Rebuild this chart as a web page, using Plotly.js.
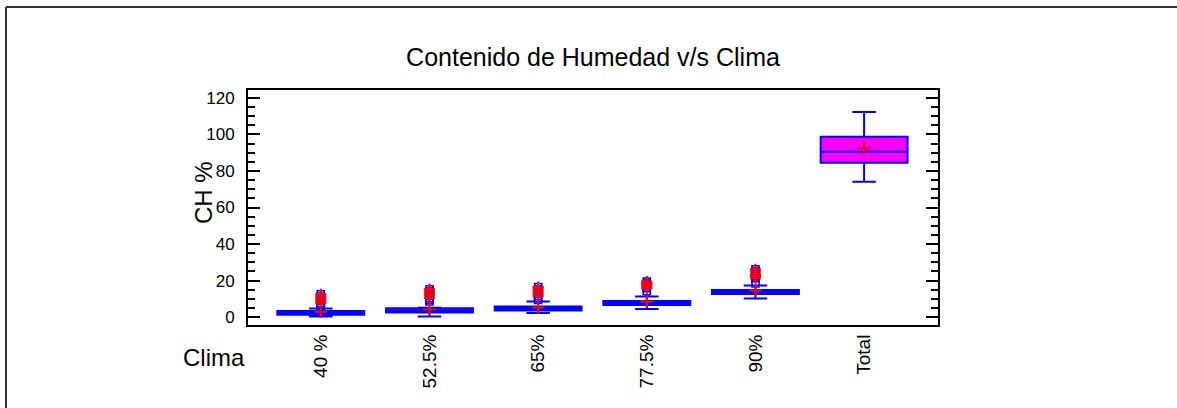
<!DOCTYPE html>
<html>
<head>
<meta charset="utf-8">
<script src="https://cdn.plot.ly/plotly-3.0.1.min.js"></script>
<style>
  html, body { margin: 0; padding: 0; background: #fff; overflow: hidden; }
  #chart { width: 1177px; height: 408px; }
</style>
</head>
<body>
<div id="chart"></div>
<script>
// Climate groups on the horizontal axis
const categories = ['40 %', '52.5%', '65%', '77.5%', '90%', 'Total'];

// Box statistics of moisture content (CH %) per group
const q1           = [1.3, 2.5, 3.6, 6.7, 12.6, 84.5];
const median       = [2.3, 3.6, 4.7, 7.8, 13.7, 90.5];
const q3           = [3.4, 4.9, 5.8, 8.9, 14.8, 98.7];
const lowerWhisker = [0.3, 0.3, 2.2, 4.4, 10.2, 74.1];
const upperWhisker = [4.7, 5.2, 8.5, 11.3, 17.3, 112.2];
const means        = [3.0, 4.2, 5.3, 8.6, 14.6, 92.3];

// Outside points (square) and far-outside points (square with plus)
const outsidePoints = [
  [5.9, 6.6],
  [8.6, 9.5],
  [9.4, 10.3],
  [14.2],
  [18.4],
  []
];
const farOutsidePoints = [
  [7.6, 8.8, 10.1, 11.3, 12.5],
  [10.5, 11.8, 13.0, 14.2, 15.3],
  [11.6, 12.8, 14.0, 15.2, 16.5],
  [15.8, 16.8, 17.7, 18.6, 19.5],
  [21.3, 22.5, 23.7, 25.0, 26.2],
  []
];

const BLUE = '#0000ff';
const RED = '#ff0000';
const FONT = 'Liberation Sans, Arial, sans-serif';

// Plot area geometry in pixels, used to place the page frame and side labels
const W = 1177, H = 408;
const M = { l: 248, r: 239, t: 90, b: 83 };
const plotW = W - M.l - M.r, plotH = H - M.t - M.b;
const px = x => (x - M.l) / plotW;
const py = y => (H - M.b - y) / plotH;

function flatten(groups) {
  const xs = [], ys = [];
  groups.forEach((vals, i) => vals.forEach(v => { xs.push(categories[i]); ys.push(v); }));
  return { xs, ys };
}
const farOut = flatten(farOutsidePoints);
const allOut = flatten(outsidePoints.map((v, i) => v.concat(farOutsidePoints[i])));

const traces = [
  {
    type: 'box',
    x: categories,
    q1: q1,
    median: median,
    q3: q3,
    lowerfence: lowerWhisker,
    upperfence: upperWhisker,
    width: 0.8,
    whiskerwidth: 0.27,
    fillcolor: '#ff00ff',
    line: { color: BLUE, width: 2 },
    boxpoints: false,
    hoverinfo: 'skip'
  },
  {
    type: 'scatter', mode: 'markers',
    x: allOut.xs, y: allOut.ys,
    marker: { symbol: 'square-open', size: 7, color: BLUE, line: { color: BLUE, width: 1.6 } },
    hoverinfo: 'skip'
  },
  {
    type: 'scatter', mode: 'markers',
    x: farOut.xs, y: farOut.ys,
    marker: { symbol: 'cross-thin-open', size: 8, color: RED, line: { color: RED, width: 2 } },
    hoverinfo: 'skip'
  },
  {
    type: 'scatter', mode: 'markers',
    x: categories, y: means,
    marker: { symbol: 'cross-thin-open', size: 9, color: RED, line: { color: RED, width: 2 } },
    hoverinfo: 'skip'
  }
];

const layout = {
  width: W,
  height: H,
  margin: M,
  paper_bgcolor: '#ffffff',
  plot_bgcolor: '#ffffff',
  showlegend: false,
  font: { family: FONT, color: '#000' },
  title: {
    text: 'Contenido de Humedad v/s Clima',
    font: { family: FONT, size: 25, color: '#000' },
    xref: 'paper', x: 0.5, xanchor: 'center',
    yref: 'container', y: 1 - 57 / H, yanchor: 'middle'
  },
  xaxis: {
    type: 'category',
    categoryorder: 'array',
    categoryarray: categories,
    range: [-0.67, 5.68],
    showline: true, linecolor: '#000', linewidth: 2, mirror: true,
    ticks: '', showgrid: false, zeroline: false,
    tickangle: -90,
    tickfont: { family: FONT, size: 19, color: '#000' },
    ticklabelstandoff: 0,
    fixedrange: true
  },
  yaxis: {
    range: [-4.3, 124.3],
    tick0: 0, dtick: 20,
    ticks: 'inside', ticklen: 12, tickwidth: 2, tickcolor: '#000',
    minor: { dtick: 5, ticks: 'inside', ticklen: 7, tickwidth: 2, tickcolor: '#000' },
    showline: true, linecolor: '#000', linewidth: 2, mirror: 'allticks',
    showgrid: false, zeroline: false,
    tickfont: { family: FONT, size: 17, color: '#000' },
    ticklabelstandoff: 8,
    fixedrange: true
  },
  shapes: [
    // page frame: left and top edges
    { type: 'line', xref: 'paper', yref: 'paper', x0: px(6), x1: px(6), y0: py(7), y1: py(H + 20),
      line: { color: '#333', width: 2 } },
    { type: 'line', xref: 'paper', yref: 'paper', x0: px(6), x1: px(W + 20), y0: py(7), y1: py(7),
      line: { color: '#333', width: 2 } }
  ],
  annotations: [
    {
      text: 'CH %', textangle: -90,
      xref: 'paper', yref: 'paper',
      x: px(203), y: py(193),
      xanchor: 'center', yanchor: 'middle', showarrow: false,
      font: { family: FONT, size: 24, color: '#000' }
    },
    {
      text: 'Clima',
      xref: 'paper', yref: 'paper',
      x: px(214), y: py(357),
      xanchor: 'center', yanchor: 'middle', showarrow: false,
      font: { family: FONT, size: 24, color: '#000' }
    }
  ]
};

Plotly.newPlot('chart', traces, layout, { staticPlot: true, displayModeBar: false });
</script>
</body>
</html>
